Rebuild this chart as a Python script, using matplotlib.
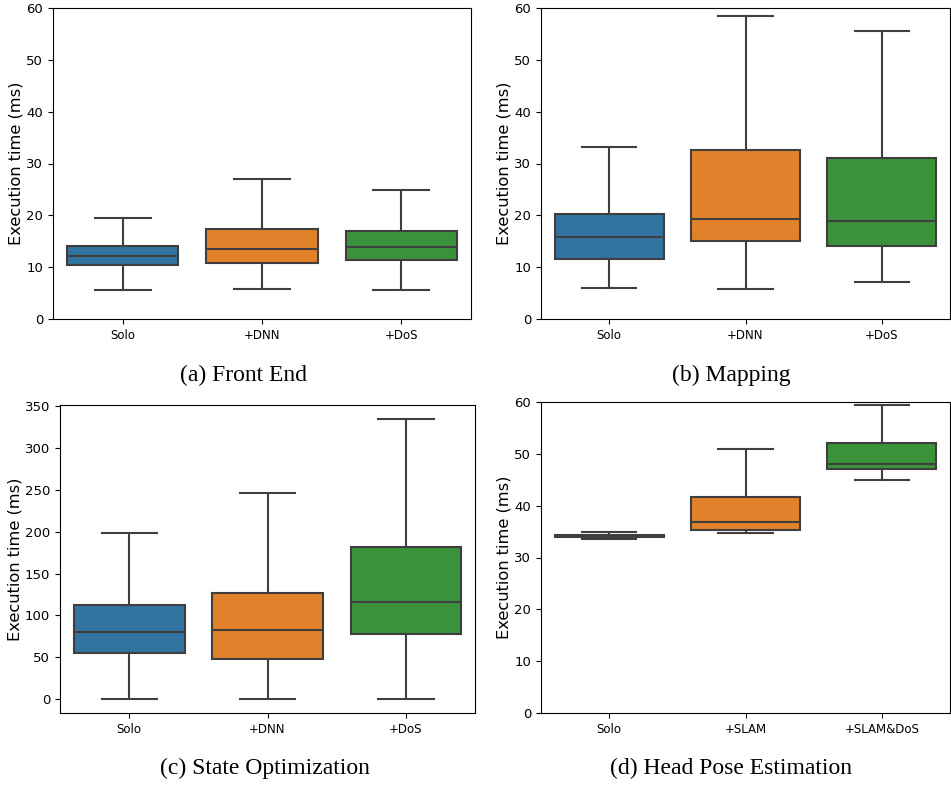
import matplotlib
matplotlib.use("Agg")
import matplotlib.pyplot as plt

# five-number summaries: whislo, q1, median, q3, whishi
front_end_labels = ["Solo", "+DNN", "+DoS"]
front_end = [[5.5, 10.4, 12.2, 14.0, 19.5],
             [5.7, 10.9, 13.6, 17.4, 27.1],
             [5.5, 11.4, 13.8, 16.9, 24.9]]

mapping_labels = ["Solo", "+DNN", "+DoS"]
mapping = [[5.9, 11.6, 15.9, 20.3, 33.1],
           [5.8, 15.1, 19.3, 32.6, 58.5],
           [7.2, 14.1, 18.9, 31.1, 55.5]]

state_opt_labels = ["Solo", "+DNN", "+DoS"]
state_opt = [[0.0, 54.7, 80.2, 112.0, 198.5],
             [0.0, 47.5, 82.2, 127.0, 246.0],
             [0.0, 78.2, 116.0, 182.3, 335.0]]

head_pose_labels = ["Solo", "+SLAM", "+SLAM&DoS"]
head_pose = [[33.6, 34.0, 34.1, 34.3, 34.9],
             [34.8, 35.4, 36.9, 41.6, 50.9],
             [45.0, 47.1, 48.1, 52.1, 59.5]]

captions = ["(a) Front End", "(b) Mapping", "(c) State Optimization", "(d) Head Pose Estimation"]
colors = ["#3274a1", "#e1812c", "#3a923a"]
line_c = "#3f3f3f"

fig = plt.figure(figsize=(9.51, 7.88), dpi=100)
W, H = 951.0, 788.0
# axes boxes in pixels: left, top, right, bottom
boxes = [(53, 8, 471, 319), (541, 8, 950, 319), (60, 405, 475, 713), (541, 402, 950, 713)]
caption_pos = [(243, 375), (731, 375), (265, 768), (731, 768)]
panels = [(front_end, front_end_labels, (0, 60)),
          (mapping, mapping_labels, (0, 60)),
          (state_opt, state_opt_labels, None),
          (head_pose, head_pose_labels, (0, 60))]

for i, (data, labels, ylim) in enumerate(panels):
    l, t, r, b = boxes[i]
    ax = fig.add_axes([l / W, 1 - b / H, (r - l) / W, (b - t) / H])
    stats = []
    for lab, s in zip(labels, data):
        stats.append(dict(label=lab, whislo=s[0], q1=s[1], med=s[2], q3=s[3], whishi=s[4], fliers=[]))
    bp = ax.bxp(stats, positions=range(len(stats)), widths=0.8, patch_artist=True,
                showfliers=False,
                boxprops=dict(edgecolor=line_c, linewidth=1.5),
                whiskerprops=dict(color=line_c, linewidth=1.5),
                capprops=dict(color=line_c, linewidth=1.5),
                medianprops=dict(color=line_c, linewidth=1.5),
                capwidths=0.4)
    for patch, c in zip(bp["boxes"], colors):
        patch.set_facecolor(c)
    ax.set_xlim(-0.5, 2.5)
    if ylim:
        ax.set_ylim(*ylim)
    ax.set_ylabel("Execution time (ms)", fontsize=11.7, labelpad=2)
    ax.tick_params(axis="y", labelsize=9.5)
    ax.tick_params(axis="x", labelsize=8.5)
    fig.text(caption_pos[i][0] / W, 1 - caption_pos[i][1] / H, captions[i],
             ha="center", va="center", fontsize=17, family="Liberation Serif")

fig.savefig("out.png", dpi=100)
